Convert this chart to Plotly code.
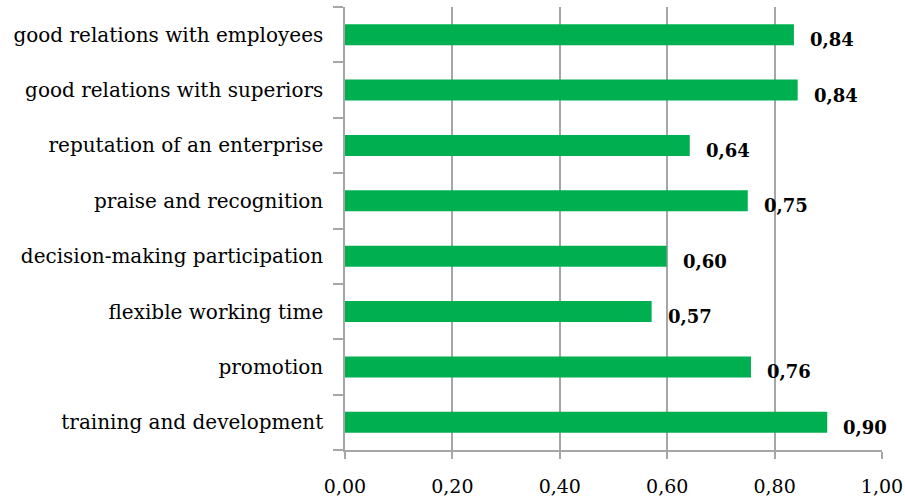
import plotly.graph_objects as go

# Factors and their mean scores (top-to-bottom order as displayed)
factors = [
    "good relations with employees",
    "good relations with superiors",
    "reputation of an enterprise",
    "praise and recognition",
    "decision-making participation",
    "flexible working time",
    "promotion",
    "training and development",
]
scores = [0.836, 0.843, 0.642, 0.750, 0.599, 0.571, 0.756, 0.898]

x_ticks = [0.0, 0.2, 0.4, 0.6, 0.8, 1.0]
x_tick_labels = ["0,00", "0,20", "0,40", "0,60", "0,80", "1,00"]

BAR_GREEN = "#00B050"
AXIS_GREY = "#a6a6a6"
SERIF = "DejaVu Serif, Liberation Serif, serif"

# plot bottom-up so the first factor sits at the top
cats = factors[::-1]
vals = scores[::-1]

fig = go.Figure()
fig.add_trace(go.Bar(
    y=cats,
    x=vals,
    orientation="h",
    marker=dict(color=BAR_GREEN, line=dict(width=0)),
    width=0.38,
    hoverinfo="skip",
))

# value labels just right of each bar, decimal comma
for c, v in zip(cats, vals):
    fig.add_annotation(
        x=v, y=c, xref="x", yref="y",
        text=f"{v:.2f}".replace(".", ","),
        showarrow=False,
        xanchor="left", yanchor="middle",
        xshift=14, yshift=-5,
        font=dict(family=SERIF, size=18, color="black", weight="bold"),
    )

fig.update_layout(
    width=905, height=500,
    margin=dict(l=345, r=23, t=7, b=50),
    paper_bgcolor="white",
    plot_bgcolor="white",
    showlegend=False,
)

fig.update_xaxes(
    range=[0, 1.0],
    tickvals=x_ticks,
    ticktext=x_tick_labels,
    showgrid=True, gridcolor=AXIS_GREY, gridwidth=1.5,
    zeroline=False,
    showline=True, linecolor=AXIS_GREY, linewidth=1.5,
    ticks="outside", ticklen=7, tickcolor=AXIS_GREY, tickwidth=1.5,
    ticklabelstandoff=11,
    automargin=False,
    tickfont=dict(family=SERIF, size=19, color="black"),
)

fig.update_yaxes(
    categoryorder="array", categoryarray=cats,
    showgrid=False,
    showline=True, linecolor=AXIS_GREY, linewidth=1.5,
    ticks="outside", ticklen=10, tickcolor=AXIS_GREY, tickwidth=1.5,
    tickson="boundaries",
    ticklabelstandoff=16,
    automargin=False,
    tickfont=dict(family=SERIF, size=20, color="black"),
)

fig.write_html("out.html")
